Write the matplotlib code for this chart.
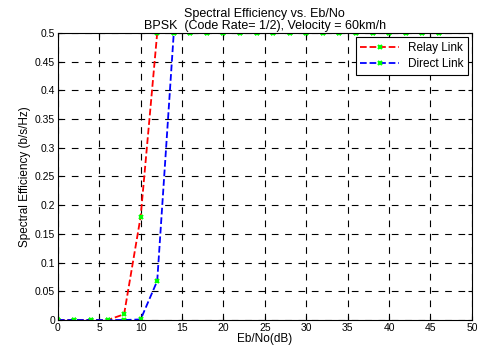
import matplotlib
matplotlib.use("Agg")
import matplotlib.pyplot as plt

plt.rcParams['font.family'] = ['Liberation Sans', 'DejaVu Sans']

ebno = [0, 2, 4, 6, 8, 10, 12, 14, 16, 18, 20, 22, 24, 26, 28, 30, 32, 34, 36, 38, 40, 42, 44, 46]
relay = [0, 0, 0, 0, 0.01, 0.18, 0.5, 0.5, 0.5, 0.5, 0.5, 0.5, 0.5, 0.5, 0.5, 0.5, 0.5, 0.5, 0.5, 0.5, 0.5, 0.5, 0.5, 0.5]
direct = [0, 0, 0, 0, 0, 0.001, 0.068, 0.5, 0.5, 0.5, 0.5, 0.5, 0.5, 0.5, 0.5, 0.5, 0.5, 0.5, 0.5, 0.5, 0.5, 0.5, 0.5, 0.5]

fig = plt.figure(figsize=(4.82, 3.54), dpi=100)
ax = fig.add_axes([0.120, 0.096, 0.859, 0.811])

ax.plot(ebno, relay, 'r--', marker='x', mec='#00ff00', mew=1.5, ms=3.5, lw=1.3, label='Relay Link')
ax.plot(ebno, direct, 'b--', marker='x', mec='#00ff00', mew=1.5, ms=3.5, lw=1.3, label='Direct Link')

ax.set_xlim(0, 50)
ax.set_ylim(0, 0.5)
ax.set_xticks(range(0, 51, 5))
ax.set_yticks([i * 0.05 for i in range(11)])
ax.set_yticklabels(['0', '0.05', '0.1', '0.15', '0.2', '0.25', '0.3', '0.35', '0.4', '0.45', '0.5'])
ax.grid(True, color='black', linestyle=(0, (6, 6)), linewidth=0.8)
ax.tick_params(labelsize=7.5, direction='in', length=3, pad=2, top=True, right=True)
for s in ax.spines.values():
    s.set_linewidth(0.8)

ax.set_xlabel('Eb/No(dB)', fontsize=8.5, labelpad=0)
ax.set_ylabel('Spectral Efficiency (b/s/Hz)', fontsize=8.5, labelpad=3)
ax.set_title('Spectral Efficiency vs. Eb/No\nBPSK  (Code Rate= 1/2), Velocity = 60km/h', fontsize=9, pad=3, linespacing=1.0)

leg = ax.legend(loc='upper right', fontsize=8.5, fancybox=False, edgecolor='black', framealpha=1,
                bbox_to_anchor=(0.99, 0.986), borderaxespad=0, handlelength=3.3, borderpad=0.4,
                labelspacing=0.35, handletextpad=0.7)
leg.get_frame().set_linewidth(0.8)

fig.savefig('out.png', dpi=100)
